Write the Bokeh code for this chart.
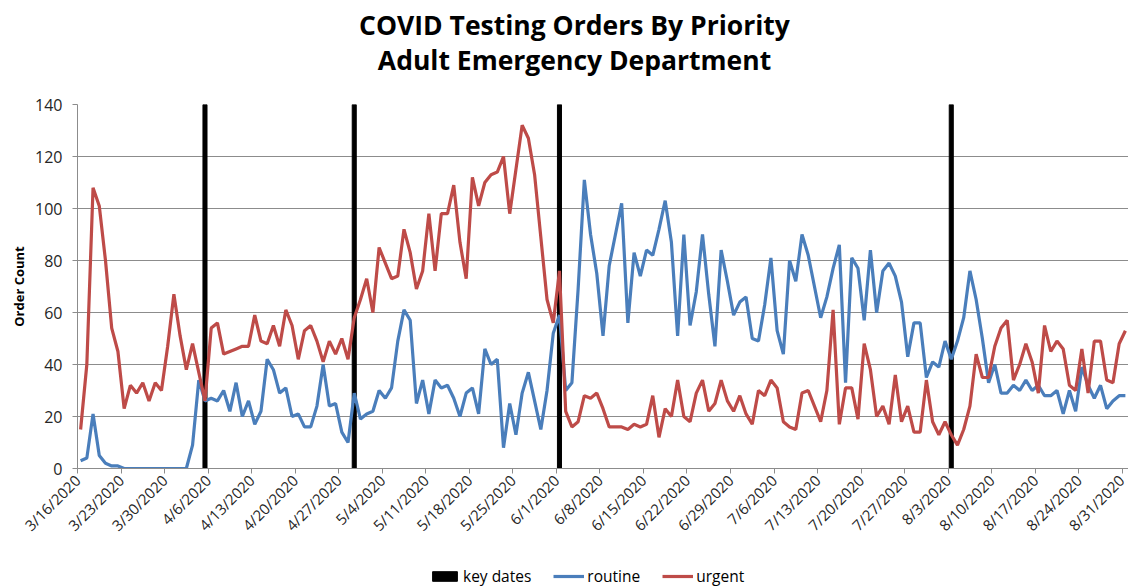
import pandas as pd
from bokeh.plotting import figure
from bokeh.layouts import column
from bokeh.models import Range1d, FixedTicker, Legend, LegendItem, Label
from bokeh.embed import file_html
from bokeh.resources import INLINE

start_date = "2020-03-16"

routine = [3, 4, 21, 5, 2, 1, 1, 0, 0, 0, 0, 0, 0, 0, 0, 0, 0, 0, 9, 34,
           26, 27, 26, 30, 22, 33, 20, 26, 17, 22, 42, 38, 29, 31, 20, 21, 16, 16, 24, 40,
           24, 25, 14, 10, 29, 19, 21, 22, 30, 27, 31, 49, 61, 57, 25, 34, 21, 34, 31, 32,
           27, 20, 29, 31, 21, 46, 40, 42, 8, 25, 13, 29, 37, 26, 15, 30, 52, 59, 30, 33,
           69, 111, 90, 75, 51, 78, 90, 102, 56, 83, 74, 84, 82, 92, 103, 87, 51, 90, 55, 68,
           90, 67, 47, 84, 72, 59, 64, 66, 50, 49, 63, 81, 53, 44, 80, 72, 90, 82, 70, 58,
           66, 77, 86, 33, 81, 77, 57, 84, 60, 76, 79, 74, 64, 43, 56, 56, 35, 41, 39, 49,
           42, 49, 58, 76, 65, 50, 33, 40, 29, 29, 32, 30, 34, 30, 32, 28, 28, 30, 21, 30,
           22, 39, 32, 27, 32, 23, 26, 28, 28]

urgent = [15, 40, 108, 101, 80, 54, 45, 23, 32, 29, 33, 26, 33, 30, 47, 67, 51, 38, 48, 37,
          26, 54, 56, 44, 45, 46, 47, 47, 59, 49, 48, 55, 47, 61, 55, 42, 53, 55, 49, 41,
          49, 44, 50, 42, 58, 65, 73, 60, 85, 79, 73, 74, 92, 83, 69, 76, 98, 76, 98, 98,
          109, 87, 73, 112, 101, 110, 113, 114, 120, 98, 115, 132, 127, 113, 89, 65, 56, 76, 22, 16,
          18, 28, 27, 29, 23, 16, 16, 16, 15, 17, 16, 17, 28, 12, 23, 20, 34, 20, 18, 29,
          34, 22, 25, 34, 26, 22, 28, 21, 17, 30, 28, 34, 31, 18, 16, 15, 29, 30, 24, 18,
          30, 61, 17, 31, 31, 19, 48, 38, 20, 24, 17, 36, 18, 24, 14, 14, 34, 18, 13, 18,
          13, 9, 15, 24, 44, 35, 35, 47, 54, 57, 34, 40, 48, 41, 29, 55, 45, 49, 46, 32,
          30, 46, 29, 49, 49, 34, 33, 48, 53]

key_dates = ["2020-04-05", "2020-04-29", "2020-06-01", "2020-08-03"]

tick_labels = ["3/16/2020", "3/23/2020", "3/30/2020", "4/6/2020", "4/13/2020",
               "4/20/2020", "4/27/2020", "5/4/2020", "5/11/2020", "5/18/2020",
               "5/25/2020", "6/1/2020", "6/8/2020", "6/15/2020", "6/22/2020",
               "6/29/2020", "7/6/2020", "7/13/2020", "7/20/2020", "7/27/2020",
               "8/3/2020", "8/10/2020", "8/17/2020", "8/24/2020", "8/31/2020"]

title_lines = ["COVID Testing Orders By Priority", "Adult Emergency Department"]
series_names = ["key dates", "routine", "urgent"]

t0 = pd.Timestamp(start_date)
x_days = [i + 0.5 for i in range(len(routine))]
key_x = [(pd.Timestamp(d) - t0).days + 0.5 for d in key_dates]
tick_pos = [7 * k for k in range(len(tick_labels))]

FONT = "Open Sans"
TXT = "#262626"
GRID = "#8c8c8c"
BLUE = "#4A7EBB"
RED = "#BE4B48"
W = 1128
LEFT = 77


def blank(height):
    # frames in a column are aligned with the chart frame (starting at LEFT),
    # so x data units equal page pixels here
    f = figure(width=W, height=height, output_backend="svg", toolbar_location=None,
               x_range=Range1d(LEFT, W), y_range=Range1d(0, height),
               x_axis_type=None, y_axis_type=None,
               min_border_left=LEFT, min_border_right=0, min_border_top=0,
               min_border_bottom=0)
    f.outline_line_color = None
    f.xgrid.visible = False
    f.ygrid.visible = False
    return f


# ---- title block ----
TH = 94
tfig = blank(TH)
for txt, base in zip(title_lines, [24, 59.5]):
    tfig.add_layout(Label(x=574, y=TH - base, text=txt, text_font=FONT,
                          text_font_style="bold", text_font_size="26.5px",
                          text_color="black", text_align="center",
                          text_baseline="alphabetic"))

# ---- main chart ----
p = figure(width=W, height=10 + 364 + 90, output_backend="svg", toolbar_location=None,
           x_range=Range1d(0, len(routine)), y_range=Range1d(0, 140),
           min_border_left=LEFT, min_border_right=0, min_border_top=10,
           min_border_bottom=90)
p.outline_line_color = None
p.background_fill_color = "white"

bars = p.vbar(x=key_x, top=140, bottom=0, width=0.65, color="black")
r_routine = p.line(x_days, routine, line_color=BLUE, line_width=3.2)
r_urgent = p.line(x_days, urgent, line_color=RED, line_width=3.2)

p.xaxis.ticker = FixedTicker(ticks=tick_pos)
p.xaxis.major_label_overrides = {t: l for t, l in zip(tick_pos, tick_labels)}
p.xaxis.major_label_orientation = 0.785398
p.xaxis.minor_tick_line_color = None
p.xaxis.major_tick_out = 5
p.xaxis.major_tick_in = 0
p.xaxis.major_label_standoff = 4
p.xaxis.major_label_text_font = FONT
p.xaxis.major_label_text_font_size = "15px"
p.xaxis.major_label_text_color = TXT
p.xaxis.axis_line_color = GRID
p.xaxis.major_tick_line_color = GRID

p.yaxis.ticker = FixedTicker(ticks=[0, 20, 40, 60, 80, 100, 120, 140])
p.yaxis.minor_tick_line_color = None
p.yaxis.major_tick_out = 5
p.yaxis.major_tick_in = 0
p.yaxis.major_label_standoff = 10
p.yaxis.major_label_text_font = FONT
p.yaxis.major_label_text_font_size = "16px"
p.yaxis.major_label_text_color = TXT
p.yaxis.axis_line_color = GRID
p.yaxis.major_tick_line_color = GRID
p.yaxis.axis_label = "Order Count"
p.yaxis.axis_label_text_font = FONT
p.yaxis.axis_label_text_font_style = "bold"
p.yaxis.axis_label_text_font_size = "13px"
p.yaxis.axis_label_text_color = "black"
p.yaxis.axis_label_standoff = 4

p.xgrid.visible = False
p.ygrid.grid_line_color = GRID
p.ygrid.grid_line_width = 1

# ---- legend block ----
LH = 29
lfig = blank(LH)
lb = lfig.vbar(x=[-500], top=[-100], bottom=[-101], width=1, color="black")
lr = lfig.line([-500, -490], [-100, -100], line_color=BLUE, line_width=3.2)
lu = lfig.line([-500, -490], [-100, -100], line_color=RED, line_width=3.2)
legend = Legend(items=[LegendItem(label=series_names[0], renderers=[lb]),
                       LegendItem(label=series_names[1], renderers=[lr]),
                       LegendItem(label=series_names[2], renderers=[lu])],
                orientation="horizontal", location=(432 - LEFT - 3, 0),
                border_line_color=None, background_fill_alpha=0,
                label_text_font=FONT, label_text_font_size="15.5px",
                label_text_color="black", glyph_width=31, glyph_height=12,
                label_standoff=3, spacing=22, margin=0, padding=3)
lfig.add_layout(legend, "center")

layout = column(tfig, p, lfig, spacing=0)

open("out.html", "w").write(file_html(layout, INLINE))
